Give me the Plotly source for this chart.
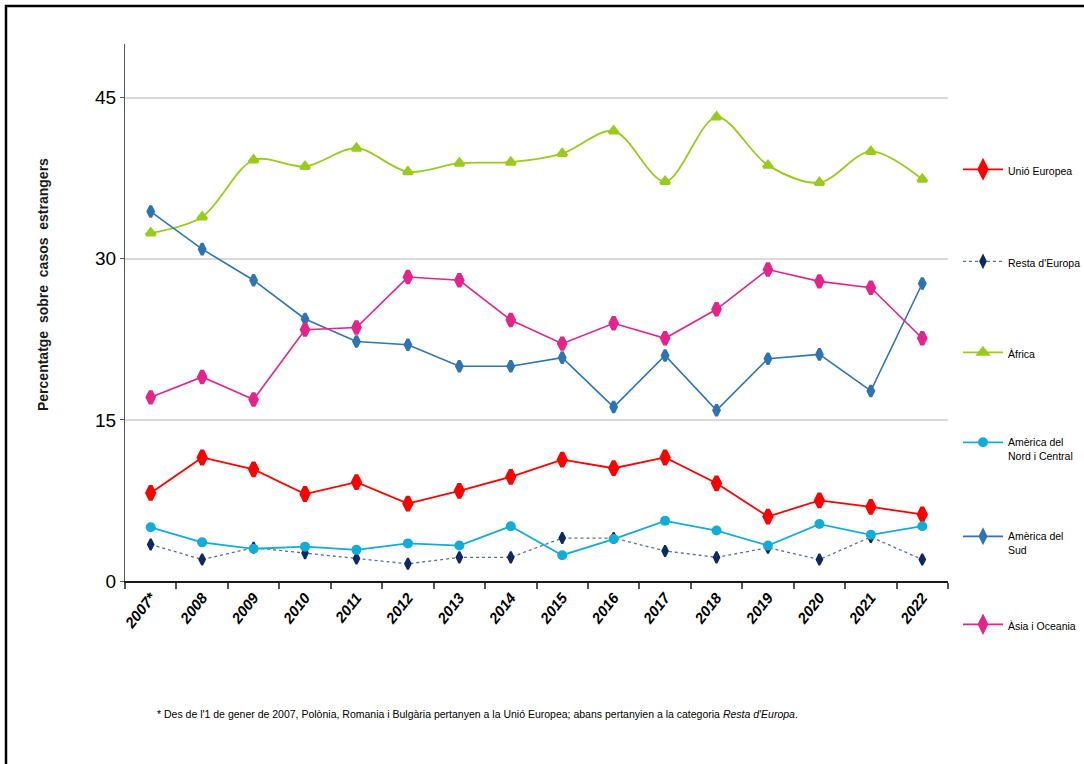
import plotly.graph_objects as go

# Categories (years) and percentage series by region of origin
years = ["2007*", "2008", "2009", "2010", "2011", "2012", "2013", "2014",
         "2015", "2016", "2017", "2018", "2019", "2020", "2021", "2022"]

unio_europea = [8.2, 11.5, 10.4, 8.1, 9.2, 7.2, 8.4, 9.7, 11.3, 10.5, 11.5, 9.1, 6.0, 7.5, 6.9, 6.2]
resta_europa = [3.4, 2.0, 3.1, 2.6, 2.1, 1.6, 2.2, 2.2, 4.0, 4.0, 2.8, 2.2, 3.1, 2.0, 4.1, 2.0]
africa = [32.4, 33.9, 39.2, 38.6, 40.3, 38.1, 38.9, 39.0, 39.8, 41.9, 37.2, 43.2, 38.7, 37.1, 40.0, 37.4]
america_nord = [5.0, 3.6, 3.0, 3.2, 2.9, 3.5, 3.3, 5.1, 2.4, 3.9, 5.6, 4.7, 3.3, 5.3, 4.3, 5.1]
america_sud = [34.4, 30.9, 28.0, 24.4, 22.3, 22.0, 20.0, 20.0, 20.8, 16.2, 21.0, 15.9, 20.7, 21.1, 17.7, 27.7]
asia_oceania = [17.1, 19.0, 16.9, 23.4, 23.6, 28.3, 28.0, 24.3, 22.1, 24.0, 22.6, 25.3, 29.0, 27.9, 27.3, 22.6]

y_ticks = [0, 15, 30, 45]

FONT = "Liberation Sans Narrow, Arial Narrow, Liberation Sans, Arial, sans-serif"

# plot-area geometry in pixels (for converting legend / note positions)
W, H = 1084, 764
L, R, T, B = 125, 948, 44, 581


def px_x(px):
    return (px - L) / (R - L)


def px_y(py):
    return (B - py) / (B - T)


series = [
    dict(name="Unió Europea", y=unio_europea, color="#FF0000", line=dict(width=1.8),
         marker=dict(symbol="diamond-tall", size=10, line=dict(width=4, color="#FF0000")),
         leg_y=170),
    dict(name="Resta d'Europa", y=resta_europa, color="#0E2A66",
         line=dict(width=1.3, dash="dot", color="#5B6F99"),
         marker=dict(symbol="diamond-tall", size=8, line=dict(width=2, color="#0E2A66")),
         leg_y=262),
    dict(name="Àfrica", y=africa, color="#99CC1A", line=dict(width=1.8, shape="spline", smoothing=0.9),
         marker=dict(symbol="triangle-up", size=8, line=dict(width=3, color="#99CC1A")),
         leg_y=353),
    dict(name="Amèrica del<br>Nord i Central", y=america_nord, color="#12ADD6", line=dict(width=1.8),
         marker=dict(symbol="circle", size=10),
         leg_y=443),
    dict(name="Amèrica del<br>Sud", y=america_sud, color="#2E74B5", line=dict(width=1.6),
         marker=dict(symbol="diamond-tall", size=8, line=dict(width=3, color="#2E74B5")),
         leg_y=537),
    dict(name="Àsia i Oceania", y=asia_oceania, color="#E5238A", line=dict(width=1.6),
         marker=dict(symbol="diamond-tall", size=9, line=dict(width=4, color="#E5238A")),
         leg_y=625),
]

fig = go.Figure()
layout_legends = {}
for i, s in enumerate(series):
    key = "legend" if i == 0 else f"legend{i + 1}"
    line = dict(color=s["color"])
    line.update(s["line"])
    marker = dict(color=s["color"])
    marker.update(s["marker"])
    fig.add_trace(go.Scatter(
        x=years, y=s["y"], name=s["name"], mode="lines+markers",
        line=line, marker=marker, legend=key, showlegend=True,
        hoverinfo="x+y+name",
    ))
    layout_legends[key] = dict(
        x=px_x(958), xanchor="left",
        y=px_y(s["leg_y"] - 14), yanchor="top",
        bgcolor="rgba(0,0,0,0)", borderwidth=0,
        font=dict(family=FONT, size=10.5, color="#000000"),
        itemwidth=40, valign="top",
    )

fig.update_layout(
    width=W, height=H,
    margin=dict(l=L, r=W - R, t=T, b=H - B, autoexpand=False),
    paper_bgcolor="white", plot_bgcolor="white",
    font=dict(family=FONT, color="#000000"),
    **layout_legends,
)

fig.update_xaxes(
    type="category", range=[-0.5, len(years) - 0.5],
    tickmode="array", tickvals=years, ticktext=[f"<b><i>{y}</i></b>" for y in years],
    tickangle=-52, tickfont=dict(family=FONT, size=15),
    tickson="boundaries", ticks="outside", ticklen=6, tickcolor="#555555", tickwidth=1.5,
    showline=True, linecolor="#1a1a1a", linewidth=2,
    showgrid=False, zeroline=False,
)

fig.update_yaxes(
    range=[0, 50], tickvals=y_ticks, ticktext=[str(v) for v in y_ticks],
    tickfont=dict(family=FONT, size=19),
    ticks="outside", ticklen=4, tickcolor="#555555",
    showline=True, linecolor="#555555", linewidth=1,
    showgrid=True, gridcolor="#D9D9D9", gridwidth=1.5,
    zeroline=False,
)

# y-axis title
fig.add_annotation(
    text="<b>Percentatge  sobre  casos  estrangers</b>", textangle=-90,
    xref="paper", yref="paper", x=px_x(43), y=px_y(285),
    xanchor="center", yanchor="middle", showarrow=False,
    font=dict(family="Liberation Sans, Arial, sans-serif", size=14, color="#1a1a1a"),
)

# footnote
fig.add_annotation(
    text="* Des de l'1 de gener de 2007, Polònia, Romania i Bulgària pertanyen a la Unió Europea; "
         "abans pertanyien a la categoria <i>Resta d'Europa</i>.",
    xref="paper", yref="paper", x=px_x(155), y=px_y(714),
    xanchor="left", yanchor="middle", showarrow=False,
    font=dict(family=FONT, size=10.5, color="#000000"),
)

# outer frame (top and left edges visible)
fig.add_shape(
    type="rect", xref="paper", yref="paper",
    x0=px_x(6), y0=px_y(H + 20), x1=px_x(W + 20), y1=px_y(6),
    line=dict(color="#000000", width=2.5), fillcolor="rgba(0,0,0,0)", layer="above",
)

fig.write_html("out.html")
